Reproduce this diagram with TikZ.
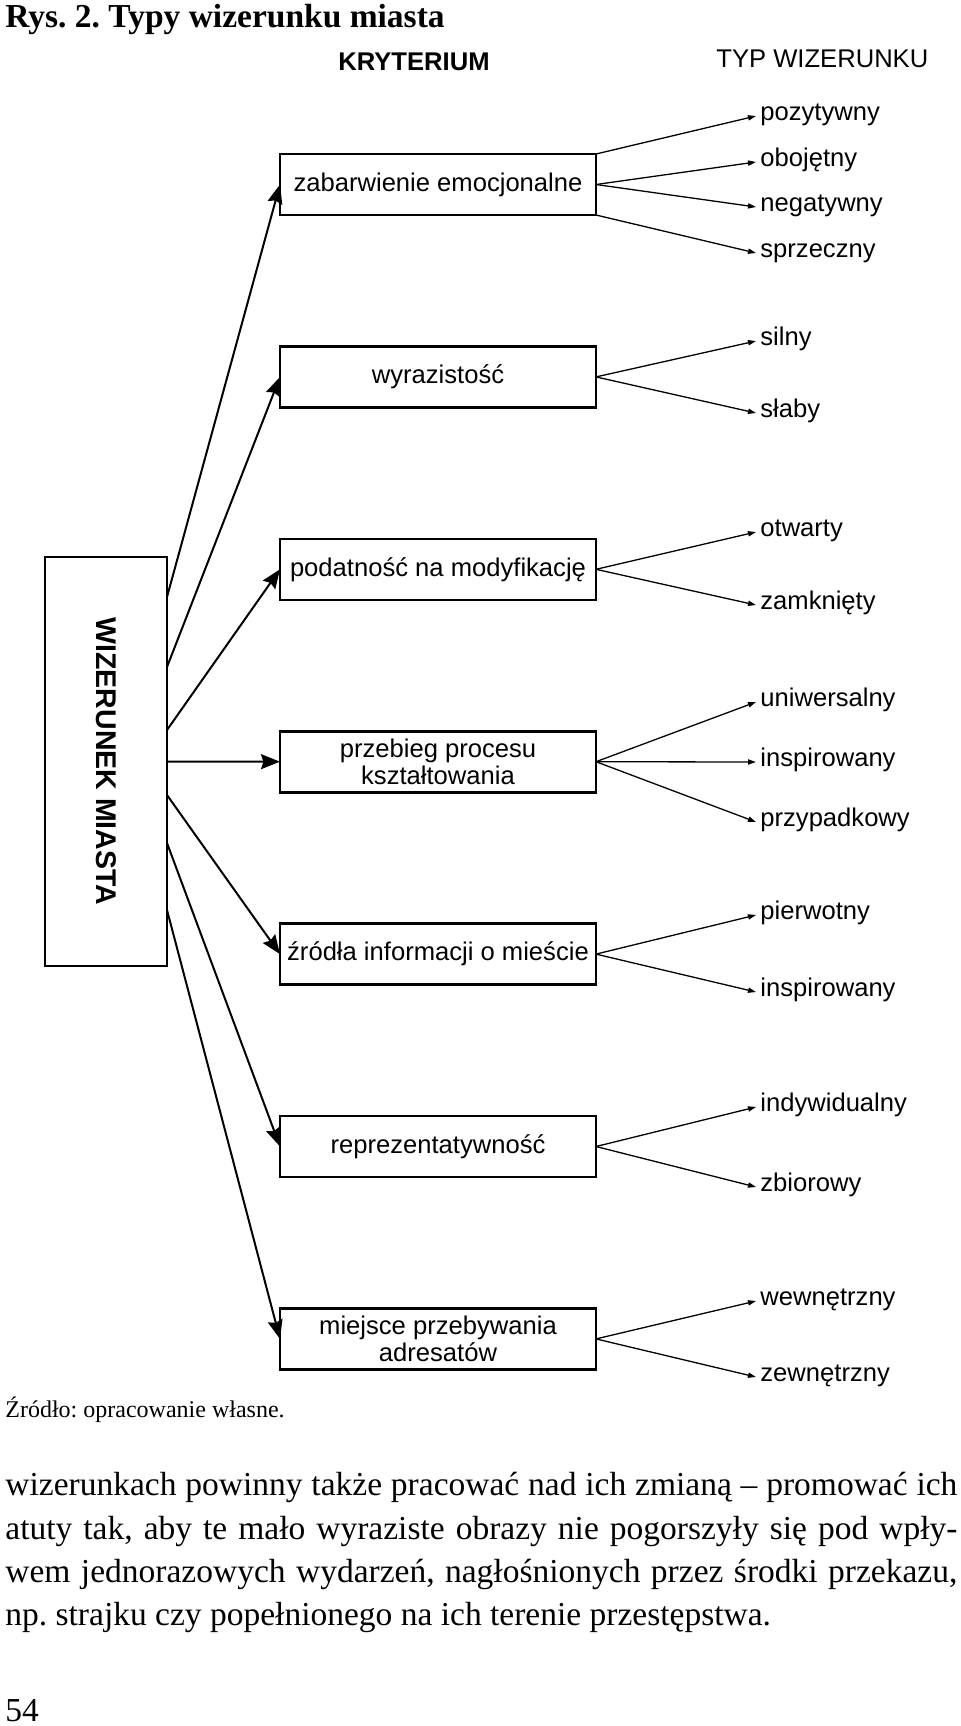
\documentclass[tikz,border=0pt]{standalone}
\usepackage{fontspec}
\setmainfont{Liberation Serif}
\newfontfamily\arial{Liberation Sans}
\usetikzlibrary{positioning}
\usetikzlibrary{arrows.meta}
\frenchspacing

\begin{document}
\begin{tikzpicture}[x=0.5pt, y=-0.5pt,
    kryt/.style={draw, line width=1.3pt, minimum width=158pt, minimum height=30.5pt,
      inner sep=0pt, outer sep=0pt, align=center, font=\arial\fontsize{12.8}{13.5}\selectfont},
    typ/.style={anchor=west, inner xsep=2pt, inner ysep=0pt, text height=1ex,
      text depth=0pt, font=\arial\fontsize{12.8}{14}\selectfont},
    gruba/.style={line width=1pt, -{Stealth[length=9.5pt, width=7.5pt, inset=1.2pt]}},
    cienka/.style={line width=0.65pt, -{Triangle[length=4pt, width=2.6pt]}},
    node distance=65.7pt]

    \useasboundingbox (0,0) rectangle (960,1726);

    % naglowki
    \node[anchor=base west, inner sep=0pt, font=\bfseries\fontsize{16.75}{20}\selectfont]
      (tytul) at (5,27) {Rys. 2. Typy wizerunku miasta};
    \node[anchor=base, inner sep=0pt, font=\arial\bfseries\fontsize{12.8}{14}\selectfont]
      (kryterium) at (414,70) {KRYTERIUM};
    \node[anchor=base west, inner sep=0pt, font=\arial\fontsize{12.8}{14}\selectfont]
      (typwiz) at (716,67) {TYP WIZERUNKU};

    \node[draw, line width=1.3pt, minimum width=61pt, minimum height=204.5pt, inner sep=0pt,
      outer sep=0pt] (wm) at (106,761.5)
      {\rotatebox{-90}{\arial\bfseries\fontsize{14.25}{16}\selectfont WIZERUNEK MIASTA}};

    \node[kryt] (k1) at (438,184.5) {zabarwienie emocjonalne};
    \node[kryt] [below=of k1] (k2) {wyrazistość};
    \node[kryt] [below=of k2] (k3) {podatność na modyfikację};
    \node[kryt] [below=of k3] (k4) {przebieg procesu\\kształtowania};
    \node[kryt] [below=of k4] (k5) {źródła informacji o mieście};
    \node[kryt] [below=of k5] (k6) {reprezentatywność};
    \node[kryt] [below=of k6] (k7) {miejsce przebywania\\adresatów};

    \draw[gruba] ([yshift=82.25pt]wm.east) -- (k1.west);
    \draw[gruba] ([yshift=47.25pt]wm.east) -- (k2.west);
    \draw[gruba] ([yshift=15.75pt]wm.east) -- (k3.west);
    \draw[gruba] (wm.east) -- (k4.west);
    \draw[gruba] ([yshift=-16.75pt]wm.east) -- (k5.west);
    \draw[gruba] ([yshift=-40.75pt]wm.east) -- (k6.west);
    \draw[gruba] ([yshift=-74.25pt]wm.east) -- (k7.west);

    % typy wizerunku
    \node[typ] (t1) at (756,116) {pozytywny};
    \node[typ] (t2) at (756,162) {obojętny};
    \node[typ] (t3) at (756,207) {negatywny};
    \node[typ] (t4) at (756,253) {sprzeczny};
    \node[typ] (t5) at (756,341) {silny};
    \node[typ] (t6) at (756,413) {słaby};
    \node[typ] (t7) at (756,532) {otwarty};
    \node[typ] (t8) at (756,605) {zamknięty};
    \node[typ] (t9) at (756,702) {uniwersalny};
    \node[typ] (t10) at (756,762) {inspirowany};
    \node[typ] (t11) at (756,822) {przypadkowy};
    \node[typ] (t12) at (756,915) {pierwotny};
    \node[typ] (t13) at (756,992) {inspirowany};
    \node[typ] (t14) at (756,1107) {indywidualny};
    \node[typ] (t15) at (756,1187) {zbiorowy};
    \node[typ] (t16) at (756,1301) {wewnętrzny};
    \node[typ] (t17) at (756,1377) {zewnętrzny};

    \draw[cienka] (k1.north east) -- (t1.west);
    \draw[cienka] (k1.east) -- (t2.west);
    \draw[cienka] (k1.east) -- (t3.west);
    \draw[cienka] (k1.south east) -- (t4.west);
    \draw[cienka] (k2.east) -- (t5.west);
    \draw[cienka] (k2.east) -- (t6.west);
    \draw[cienka] (k3.east) -- (t7.west);
    \draw[cienka] (k3.east) -- (t8.west);
    \draw[cienka] (k4.east) -- (t9.west);
    \draw[cienka] (k4.east) -- (t10.west);
    \draw[cienka] (k4.east) -- (t11.west);
    \draw[cienka] (k5.east) -- (t12.west);
    \draw[cienka] (k5.east) -- (t13.west);
    \draw[cienka] (k6.east) -- (t14.west);
    \draw[cienka] (k6.east) -- (t15.west);
    \draw[cienka] (k7.east) -- (t16.west);
    \draw[cienka] (k7.east) -- (t17.west);

    % tekst pod rysunkiem
    \node[anchor=base west, inner sep=0pt, font=\fontsize{12}{14}\selectfont]
      (zrodlo) at (5,1417) {Źródło: opracowanie własne.};
    \node[anchor=north west, inner sep=0pt, text width=476pt, align=justify,
      font=\fontsize{16.75}{21.65}\selectfont] (tekst) at (5,1472)
      {wizerunkach powinny także pracować nad ich zmianą – promować ich\linebreak
       atuty tak, aby te mało wyraziste obrazy nie pogorszyły się pod wpły-\linebreak
       wem jednorazowych wydarzeń, nagłośnionych przez środki przekazu,\linebreak
       np. strajku czy popełnionego na ich terenie przestępstwa.};
    \node[anchor=base west, inner sep=0pt, font=\fontsize{16.75}{20}\selectfont]
      (strona) at (5,1721) {54};

  \end{tikzpicture}
\end{document}
